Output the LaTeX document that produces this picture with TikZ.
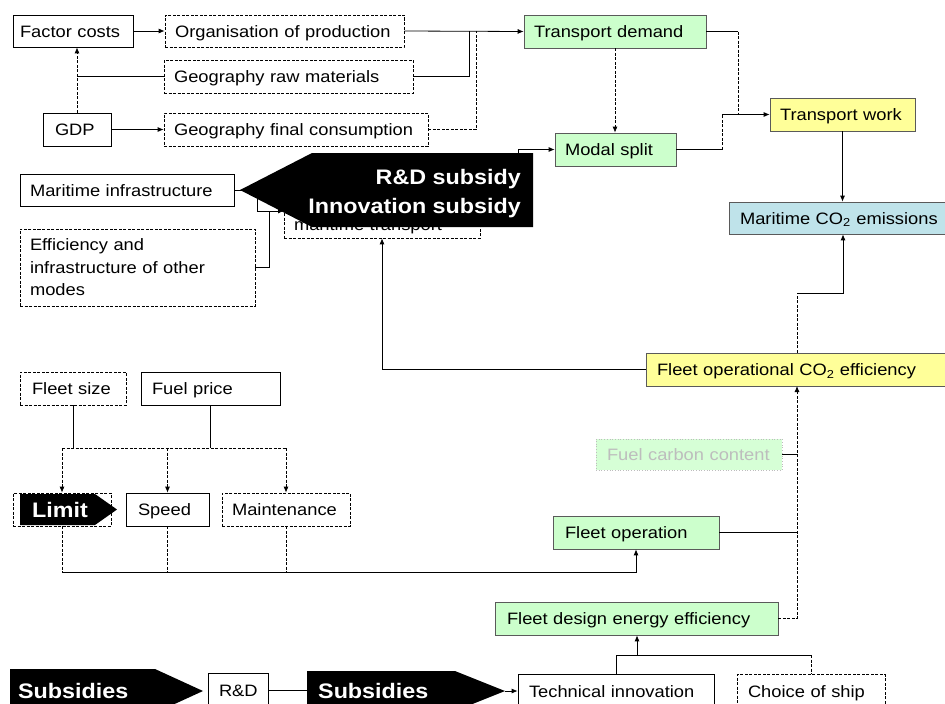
\documentclass[tikz,border=0pt]{standalone}
\usepackage{fontspec}
\setmainfont{Liberation Sans}[FakeStretch=1.11]
\usepackage{tikz}
\usetikzlibrary{arrows.meta,positioning,calc}
\definecolor{DMGreen}{HTML}{CCFFCC}
\definecolor{DMYellow}{HTML}{FFFF99}
\definecolor{DMBlue}{HTML}{BFE3EA}
\definecolor{DMPale}{HTML}{D6FFD6}
\definecolor{DMGrey}{HTML}{BDBDBD}
\definecolor{DMEdge}{HTML}{5A5A5A}

\begin{document}
\begin{tikzpicture}[x=1pt,y=-1pt,
  font=\fontsize{16.5}{22.5}\selectfont,
  box/.style={draw,line width=0.7pt,inner xsep=10pt,inner ysep=0pt,minimum height=32pt,
              align=left,text height=12pt,text depth=0pt},
  dbox/.style={box,dash pattern=on 3pt off 1.5pt},
  gbox/.style={box,draw=DMEdge,fill=DMGreen},
  ybox/.style={box,draw=DMEdge,fill=DMYellow},
  bbox/.style={box,draw=DMEdge,fill=DMBlue},
  fadebox/.style={box,draw=DMGrey,dotted,fill=DMPale,text=DMGrey},
  tallbox/.style={draw,line width=0.7pt,inner xsep=10pt,inner ysep=0pt,align=left,
                  dash pattern=on 3pt off 1.5pt},
  link/.style={line width=0.8pt},
  dlink/.style={link,dash pattern=on 3pt off 1.5pt},
  arr/.style={-{Latex[length=6pt,width=5pt]}},
  bannertxt/.style={text=white,font=\fontsize{21}{29}\selectfont\bfseries,inner sep=0pt}
]
\useasboundingbox (0,0) rectangle (945,704);
\clip (0,0) rectangle (945,704);

% demand side
\node[box,text width=106pt,inner xsep=7pt] (fac) at (73,31) {Factor costs};
\node[dbox,text width=219pt] (org) at (284.5,31) {Organisation of production};
\node[dbox,text width=229pt,minimum height=33pt] (raw) at (288.5,76.5) {Geography raw materials};
\node[box,text width=44pt,minimum height=33pt,inner xsep=12pt] (gdp) at (77,129.5) {GDP};
\node[dbox,text width=244pt,minimum height=33pt] (fin) at (296,129.5) {Geography final consumption};
\node[gbox,text width=162pt,minimum height=33pt] (dem) at (615,31.5) {Transport demand};
\node[gbox,text width=101pt,minimum height=33pt] (mod) at (615.5,149.5) {Modal split};
\node[ybox,text width=125pt,minimum height=33pt] (wrk) at (842.5,114.5) {Transport work};
\node[bbox,text width=206pt,inner xsep=11pt] (emi) at (843,218) {Maritime CO\textsubscript{2} emissions};
\node[box,text width=194pt] (inf) at (127,190) {Maritime infrastructure};
\node[tallbox,text width=215pt,minimum height=77pt] (eff) at (137.5,267.5) {Efficiency and\\infrastructure of other\\modes};
\node[dbox,text width=176pt,minimum height=28pt] (mt) at (382,224) {maritime transport};

% supply side
\node[ybox,text width=298pt,minimum height=33pt,inner xsep=11pt] (fco) at (806,369.5) {Fleet operational CO\textsubscript{2} efficiency};
\node[fadebox,text width=164pt,minimum height=31pt,inner xsep=11pt] (fcc) at (689,454.5) {Fuel carbon content};
\node[gbox,text width=142pt,minimum height=33pt,inner xsep=12pt] (fop) at (636,532.5) {Fleet operation};
\node[gbox,text width=259pt,minimum height=33pt,inner xsep=12pt] (fde) at (636.5,618.5) {Fleet design energy efficiency};
\node[dbox,text width=82pt,minimum height=33pt,inner xsep=12pt] (fsz) at (73,388.5) {Fleet size};
\node[box,text width=117pt,minimum height=33pt,inner xsep=11pt] (fpr) at (210.5,388.5) {Fuel price};
\node[dbox,minimum width=98pt,minimum height=33pt] (lim) at (62,509.5) {};
\node[box,text width=59pt,minimum height=33pt,inner xsep=12pt] (spd) at (167.5,509.5) {Speed};
\node[dbox,text width=108pt,minimum height=33pt] (mnt) at (286,509.5) {Maintenance};
\node[box,text width=38pt,minimum height=34pt,inner xsep=11pt] (rnd) at (238,690) {R\&D};
\node[box,text width=174pt,minimum height=34pt,inner xsep=11pt] (tec) at (616,691) {Technical innovation};
\node[dbox,text width=126pt,minimum height=34pt,inner xsep=11pt] (chs) at (811,691.5) {Choice of ship};

% connectors, demand side
\coordinate (jraw) at (469,31);
\coordinate (jfin) at (476,31);
\coordinate (jdem) at (738,114.5);
\coordinate (jmod) at (722,114.5);
\coordinate (jfco) at (797,293);
\coordinate (jmt) at (518,149.5);
\coordinate (mtin) at (284,211);
\coordinate (jeff) at (269,211);
\draw[link,arr] (fac.east) -- (org.west);
\draw[dlink,arr] (gdp.north) -- (gdp.north |- fac.south);
\draw[link] (raw.west) -- (raw.west -| gdp.north);
\draw[link,arr] (gdp.east) -- (fin.west);
\draw[link,arr] (org.east) -- (dem.west);
\draw[link] (raw.east) -| (jraw);
\draw[dlink] (fin.east) -| (jfin);
\draw[dlink,arr] (dem.south) -- (dem.south |- mod.north);
\draw[link] (dem.east) -- (dem.east -| jdem);
\draw[dlink] (dem.east -| jdem) -- (jdem);
\draw[link] (mod.east) -- (mod.east -| jmod);
\draw[dlink] (mod.east -| jmod) -- (jmod);
\draw[link,arr] (jmod) -- (wrk.west);
\draw[link,arr] (wrk.south) -- (wrk.south |- emi.north);
\draw[dlink] (fco.north -| jfco) -- (jfco);
\draw[link,arr] (jfco) -| (emi.south);
\draw[link,arr] (fco.west) -| (mt.south);
\draw[link] (mt.east) -| (jmt);
\draw[link,arr] (jmt) -- (mod.west);
\draw[link,arr] (inf.east) -- ++(23,0) |- (mtin);
\draw[link] (eff.east) -| (jeff);

% connectors, supply side
\coordinate (jtop) at (62,448);
\coordinate (jbot) at (62,572);
\coordinate (jop) at (797,386);
\coordinate (jtec) at (637,655);
\coordinate (s2l) at (307,690);
\coordinate (s2tip) at (505,691);
\draw[link] (fsz.south) -- (fsz.south |- jtop);
\draw[link] (fpr.south) -- (fpr.south |- jtop);
\draw[dlink] (jtop) -- (mnt.north |- jtop);
\foreach \b in {lim,spd,mnt}{\draw[dlink,arr] (\b.north |- jtop) -- (\b.north);}
\foreach \b in {lim,spd,mnt}{\draw[dlink] (\b.south) -- (\b.south |- jbot);}
\draw[link,arr] (jbot) -| (fop.south);
\draw[link] (fcc.east) -- (fcc.east -| jop);
\draw[link] (fop.east) -- (fop.east -| jop);
\draw[dlink,arr] (fde.east) -| (jop);
\draw[link] (tec.north) |- (chs.north |- jtec);
\draw[dlink] (chs.north |- jtec) -- (chs.north);
\draw[link,arr] (jtec) -- (jtec |- fde.south);
\draw[link] (rnd.east) -- (s2l);
\draw[link,arr] (s2tip) -- (tec.west);

% policy banners
\fill (240,190) -- (312,153) -- (533,153) -- (533,227) -- (312,227) -- cycle;
\node[bannertxt,align=right,anchor=east] (rdsub) at (521,194) {R\&D subsidy\\Innovation subsidy};
\fill (20,494) -- (95,494) -- (117,509.5) -- (95,525) -- (20,525) -- cycle;
\node[bannertxt,anchor=west] (limit) at (32,509.5) {Limit};
\fill (10,669) -- (155,669) -- (203,691) -- (155,713) -- (10,713) -- cycle;
\node[bannertxt,anchor=west] (sub1) at (18,691) {Subsidies};
\fill (307,671) -- (455,671) -- (505,691) -- (455,711) -- (307,711) -- cycle;
\node[bannertxt,anchor=west] (sub2) at (318,691) {Subsidies};
\end{tikzpicture}
\end{document}
